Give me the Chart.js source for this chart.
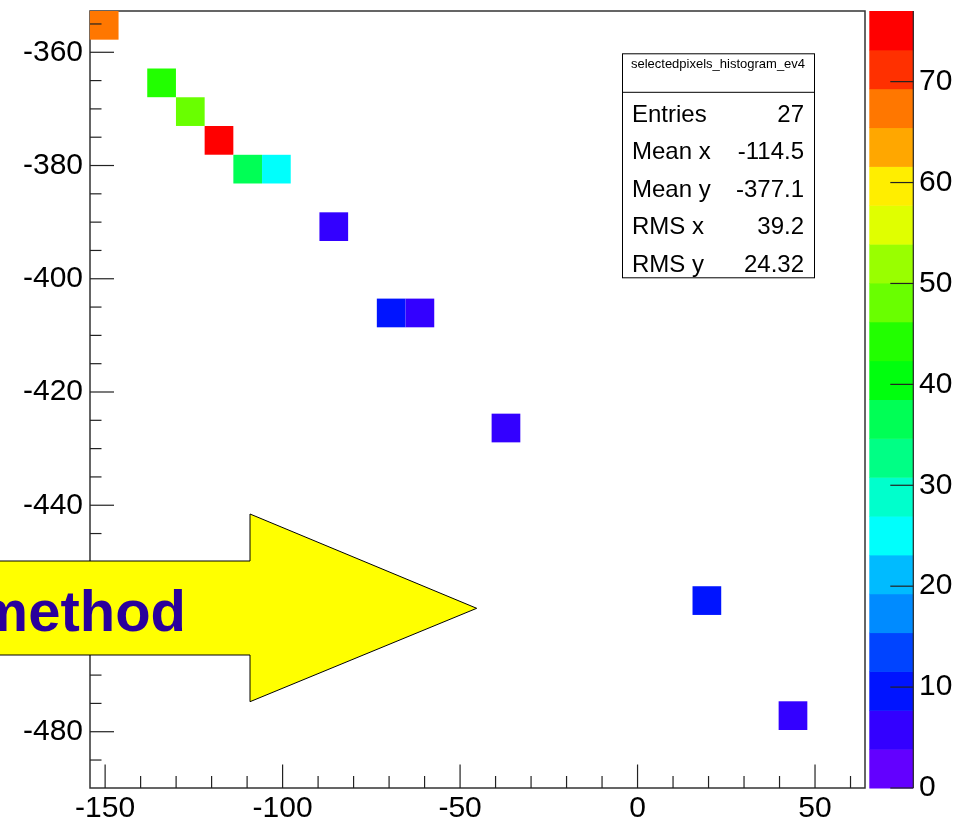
<!DOCTYPE html>
<html>
<head>
<meta charset="utf-8">
<title>selectedpixels_histogram_ev4</title>
<script src="https://cdn.jsdelivr.net/npm/chart.js@4.4.1/dist/chart.umd.min.js"></script>
<style>
  html, body { margin: 0; padding: 0; background: #fff; }
  #wrap { position: relative; width: 963px; height: 823px; overflow: hidden; }
  #box { position: absolute; left: 0; top: 0; width: 963px; height: 823px; }
  #overlay { position: absolute; left: 0; top: 0; pointer-events: none; }
</style>
</head>
<body>
<div id="wrap">
  <div id="box"><canvas id="c"></canvas></div>
  <svg id="overlay" width="963" height="823" viewBox="0 0 963 823">
    <polygon points="-10,561 250,561 250,514 476.7,608.3 250,701.7 250,655 -10,655"
             fill="#ffff00" stroke="#000" stroke-width="1"/>
    <text x="186" y="630.7" text-anchor="end"
          font-family="'Liberation Sans', Arial, Helvetica, sans-serif"
          font-weight="bold" font-size="58" fill="#2a009c">method</text>
  </svg>
</div>
<script>
// Filled bins of the 2D pixel histogram: bin centres and bin contents
const cellX = [-150.26, -134.09, -126.00, -117.92, -109.83, -101.75, -85.58, -69.41, -61.32, -37.07, 19.53, 43.79];
const cellY = [-355.24, -365.40, -370.48, -375.56, -380.64, -380.64, -390.80, -406.04, -406.04, -426.36, -456.84, -477.16];
const cellZ = [67, 44, 48, 77, 37, 25, 6, 10, 6, 6, 10, 6];

// Axis ranges (27 x 27 bins)
const xMin = -154.26, xMax = 64.08;
const yMin = -489.94, yMax = -352.71;
const nBinsX = 27, nBinsY = 27;

// Tick label values
const xTicks = [-150, -100, -50, 0, 50];
const yTicks = [-480, -460, -440, -420, -400, -380, -360];
const zTicks = [0, 10, 20, 30, 40, 50, 60, 70];

// Statistics box contents
const statTitle = 'selectedpixels_histogram_ev4';
const statNames = ['Entries', 'Mean x', 'Mean y', 'RMS x', 'RMS y'];
const statValues = ['27', '-114.5', '-377.1', '39.2', '24.32'];

const binW = (xMax - xMin) / nBinsX;
const binH = (yMax - yMin) / nBinsY;
const zMax = Math.max(...cellZ);
const nContours = 20;

const FONT = "'Liberation Sans', Arial, Helvetica, sans-serif";
const AXIS_COLOR = '#333';

// Rainbow palette (50 hues from violet to red), sampled at 20 contour levels
function contourColor(k) {
  const idx = Math.floor((k + 0.99) * 50 / nContours);
  const hue = 280 - (idx + 1) * 5.6;
  return `hsl(${hue.toFixed(2)}, 100%, 50%)`;
}
function colorFor(z) {
  let k = Math.floor(z / zMax * nContours);
  if (k >= nContours) k = nContours - 1;
  if (k < 0) k = 0;
  return contourColor(k);
}
function cellSide(chart) {
  const xs = chart.scales.x;
  return Math.abs(xs.getPixelForValue(xMin + binW) - xs.getPixelForValue(xMin));
}

function line(ctx, x0, y0, x1, y1) {
  ctx.beginPath();
  ctx.moveTo(x0, y0);
  ctx.lineTo(x1, y1);
  ctx.stroke();
}

// Fixed axis box sizes; no extra label padding around the plot frame
function fixWidth(w) {
  return s => { s.width = w; s.paddingTop = 0; s.paddingBottom = 0; };
}
function fixHeight(h) {
  return s => { s.height = h; s.paddingLeft = 0; s.paddingRight = 0; };
}

const histPlugin = {
  id: 'histFrame',
  beforeDatasetsDraw(chart) {
    const { ctx, chartArea: a } = chart;
    ctx.save();
    ctx.strokeStyle = AXIS_COLOR;
    ctx.lineWidth = 1.5;
    ctx.strokeRect(a.left, a.top, a.right - a.left, a.bottom - a.top);
    ctx.restore();
  },
  afterDatasetsDraw(chart) {
    const { ctx, chartArea: a, scales } = chart;
    const xs = scales.x, ys = scales.y;
    ctx.save();
    ctx.strokeStyle = '#222';
    ctx.lineWidth = 1.2;
    // x axis: majors every 50, minors every 10, pointing into the frame
    for (let v = Math.ceil(xMin / 10) * 10; v <= xMax; v += 10) {
      const px = xs.getPixelForValue(v);
      const len = (v % 50 === 0) ? 23.5 : 12;
      line(ctx, px, a.bottom, px, a.bottom - len);
    }
    // y axis: majors every 20, minors every 5
    for (let v = Math.ceil(yMin / 5) * 5; v <= yMax; v += 5) {
      const py = ys.getPixelForValue(v);
      const len = (v % 20 === 0) ? 24 : 11.5;
      line(ctx, a.left, py, a.left + len, py);
    }
    ctx.restore();
  },
  afterDraw(chart) {
    const { ctx, chartArea: a, scales } = chart;
    const zs = scales.colz;

    // Colour scale
    const barL = a.right + 4.3, barR = a.right + 48.3;
    ctx.save();
    for (let k = 0; k < nContours; k++) {
      const y0 = zs.getPixelForValue(k * zMax / nContours);
      const y1 = zs.getPixelForValue((k + 1) * zMax / nContours);
      ctx.fillStyle = contourColor(k);
      ctx.fillRect(barL, y1, barR - barL, y0 - y1 + 0.5);
    }
    ctx.strokeStyle = '#222';
    ctx.lineWidth = 1.2;
    line(ctx, barR, zs.top, barR, zs.bottom);
    zs.ticks.forEach(t => {
      const py = zs.getPixelForValue(t.value);
      line(ctx, barR - 23, py, barR, py);
    });
    ctx.restore();

    // Statistics box
    const bx = 622, by = 53.3, bw = 192, bh = 224, titleH = 39;
    ctx.save();
    ctx.fillStyle = '#fff';
    ctx.fillRect(bx, by, bw, bh);
    ctx.strokeStyle = '#000';
    ctx.lineWidth = 1;
    ctx.strokeRect(bx + 0.5, by + 0.5, bw, bh);
    line(ctx, bx, by + titleH, bx + bw, by + titleH);
    ctx.fillStyle = '#000';
    ctx.font = `13px ${FONT}`;
    ctx.textAlign = 'center';
    ctx.textBaseline = 'alphabetic';
    ctx.fillText(statTitle, bx + bw / 2, by + 15);
    ctx.font = `24px ${FONT}`;
    statNames.forEach((name, i) => {
      const base = by + 68.4 + i * 37.5;
      ctx.textAlign = 'left';
      ctx.fillText(name, bx + 10, base);
      ctx.textAlign = 'right';
      ctx.fillText(statValues[i], bx + bw - 10, base);
    });
    ctx.restore();
  }
};

Chart.defaults.font.family = FONT;
Chart.defaults.color = '#000';

const tickFont = { size: 30, family: FONT };
const noGrid = { display: false, drawTicks: false, tickLength: 0 };

new Chart(document.getElementById('c'), {
  type: 'scatter',
  data: {
    datasets: [{
      label: statTitle,
      data: cellX.map((x, i) => ({ x, y: cellY[i], z: cellZ[i] })),
      pointStyle: 'rect',
      pointRadius: ctx => cellSide(ctx.chart) / Math.SQRT2,
      pointHoverRadius: ctx => cellSide(ctx.chart) / Math.SQRT2,
      backgroundColor: ctx => colorFor(ctx.raw ? ctx.raw.z : 0),
      borderWidth: 0,
      clip: false
    }]
  },
  options: {
    responsive: true,
    maintainAspectRatio: false,
    devicePixelRatio: 1,
    animation: false,
    events: [],
    layout: { padding: { top: 11, left: 0, right: 0, bottom: 0 } },
    plugins: { legend: { display: false }, tooltip: { enabled: false } },
    scales: {
      x: {
        type: 'linear', position: 'bottom', min: xMin, max: xMax,
        grid: noGrid, border: { display: false },
        afterBuildTicks: s => { s.ticks = xTicks.map(v => ({ value: v })); },
        afterFit: fixHeight(35),
        ticks: { font: tickFont, padding: 3, maxRotation: 0, autoSkip: false }
      },
      y: {
        type: 'linear', position: 'left', min: yMin, max: yMax,
        grid: noGrid, border: { display: false },
        afterBuildTicks: s => { s.ticks = yTicks.map(v => ({ value: v })); },
        afterFit: fixWidth(90),
        ticks: { font: tickFont, padding: 7, autoSkip: false }
      },
      colz: {
        type: 'linear', axis: 'y', position: 'right', min: 0, max: zMax,
        grid: noGrid, border: { display: false },
        afterBuildTicks: s => { s.ticks = zTicks.map(v => ({ value: v })); },
        afterFit: fixWidth(98),
        ticks: { font: tickFont, padding: 54, autoSkip: false }
      }
    }
  },
  plugins: [histPlugin]
});
</script>
</body>
</html>
